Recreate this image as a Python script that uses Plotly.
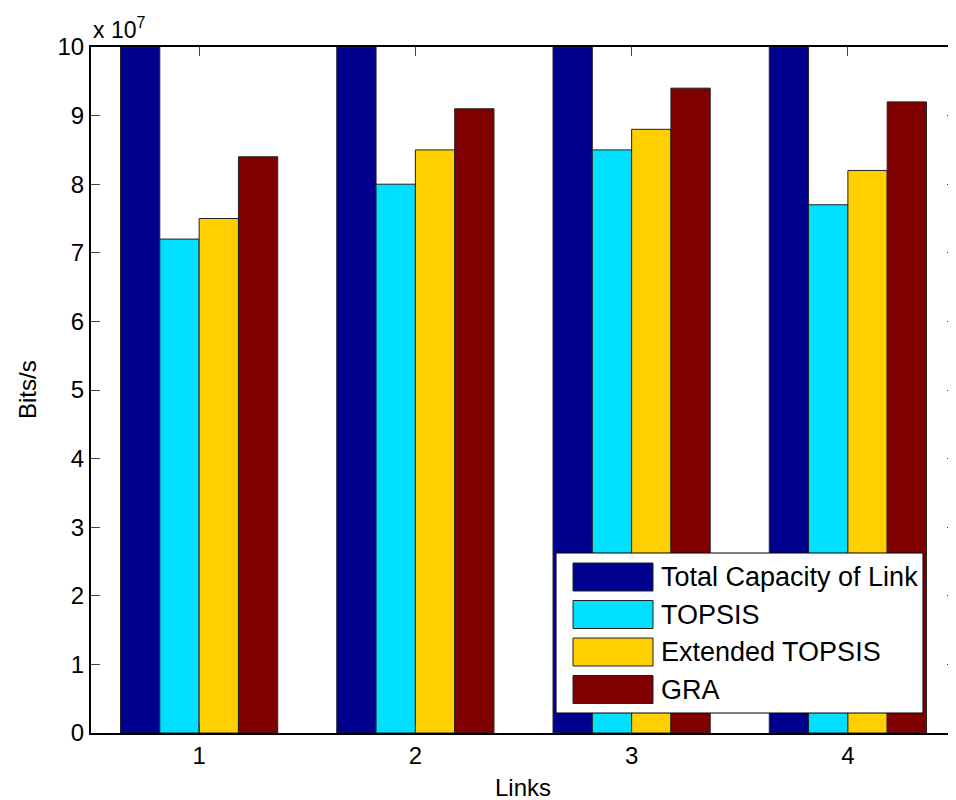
import plotly.graph_objects as go

# values in units of 1e7 bits/s
links = [1, 2, 3, 4]
total_capacity = [10, 10, 10, 10]
topsis = [7.2, 8.0, 8.5, 7.7]
ext_topsis = [7.5, 8.5, 8.8, 8.2]
gra = [8.4, 9.1, 9.4, 9.2]

series_names = ["Total Capacity of Link", "TOPSIS", "Extended TOPSIS", "GRA"]
colors = ["#00008F", "#00DFFF", "#FFCF00", "#800000"]
FONT = "Liberation Sans, Arial, Helvetica, sans-serif"

# the page body has an 8px margin, so the figure is a bit smaller than the window
OFF = 8
W, H = 956 - OFF, 800 - OFF
ML, MR, MT, MB = 91 - OFF, 0, 47 - OFF, 67
PW, PH = W - ML - MR, H - MT - MB


def px(x):
    # window pixel -> paper x
    return (x - OFF - ML) / PW


def py(y):
    # window pixel -> paper y
    return (H - MB - (y - OFF)) / PH


fig = go.Figure()
for name, vals, col in zip(series_names, [total_capacity, topsis, ext_topsis, gra], colors):
    fig.add_trace(go.Bar(
        x=links, y=vals, name=name,
        marker=dict(color=col, line=dict(color="#222222", width=1)),
        showlegend=False,
    ))

# MATLAB-style legend drawn by hand (big patches)
shapes = [dict(type="rect", xref="paper", yref="paper",
               x0=px(556), x1=px(923), y0=py(713), y1=py(553),
               line=dict(color="black", width=1), fillcolor="white", layer="above")]
annotations = []
for i, (name, col) in enumerate(zip(series_names, colors)):
    top = 563 + i * 37.5
    shapes.append(dict(type="rect", xref="paper", yref="paper",
                       x0=px(573), x1=px(653), y0=py(top + 28), y1=py(top),
                       line=dict(color="#222222", width=1), fillcolor=col, layer="above"))
    annotations.append(dict(xref="paper", yref="paper", x=px(659), y=py(top + 14),
                            text=name, showarrow=False, xanchor="left", yanchor="middle",
                            font=dict(size=27, color="black", family=FONT)))

annotations += [
    dict(xref="paper", yref="paper", x=0, y=1, xanchor="left", yanchor="bottom",
         text="x 10<sup>7</sup>", showarrow=False, yshift=2,
         font=dict(size=23, color="black", family=FONT)),
    dict(xref="paper", yref="paper", x=px(523), y=py(787), text="Links", showarrow=False,
         xanchor="center", yanchor="middle", font=dict(size=24, color="black", family=FONT)),
    dict(xref="paper", yref="paper", x=px(27), y=py(390), text="Bits/s", showarrow=False,
         textangle=-90, xanchor="center", yanchor="middle",
         font=dict(size=24, color="black", family=FONT)),
]

fig.update_layout(
    width=W, height=H,
    margin=dict(l=ML, r=MR, t=MT, b=MB),
    paper_bgcolor="white", plot_bgcolor="white",
    barmode="group", bargap=0.273, bargroupgap=0,
    font=dict(family=FONT, size=24, color="black"),
    shapes=shapes, annotations=annotations,
    xaxis=dict(range=[0.5, 4.5], tickvals=links, ticks="inside", ticklen=9,
               showline=True, linecolor="black", linewidth=2, mirror="ticks",
               showgrid=False, zeroline=False, automargin=False),
    yaxis=dict(range=[0, 10], dtick=1, ticks="inside", ticklen=9,
               showline=True, linecolor="black", linewidth=2, mirror="ticks",
               showgrid=False, zeroline=False, automargin=False),
)

fig.write_html("out.html")
